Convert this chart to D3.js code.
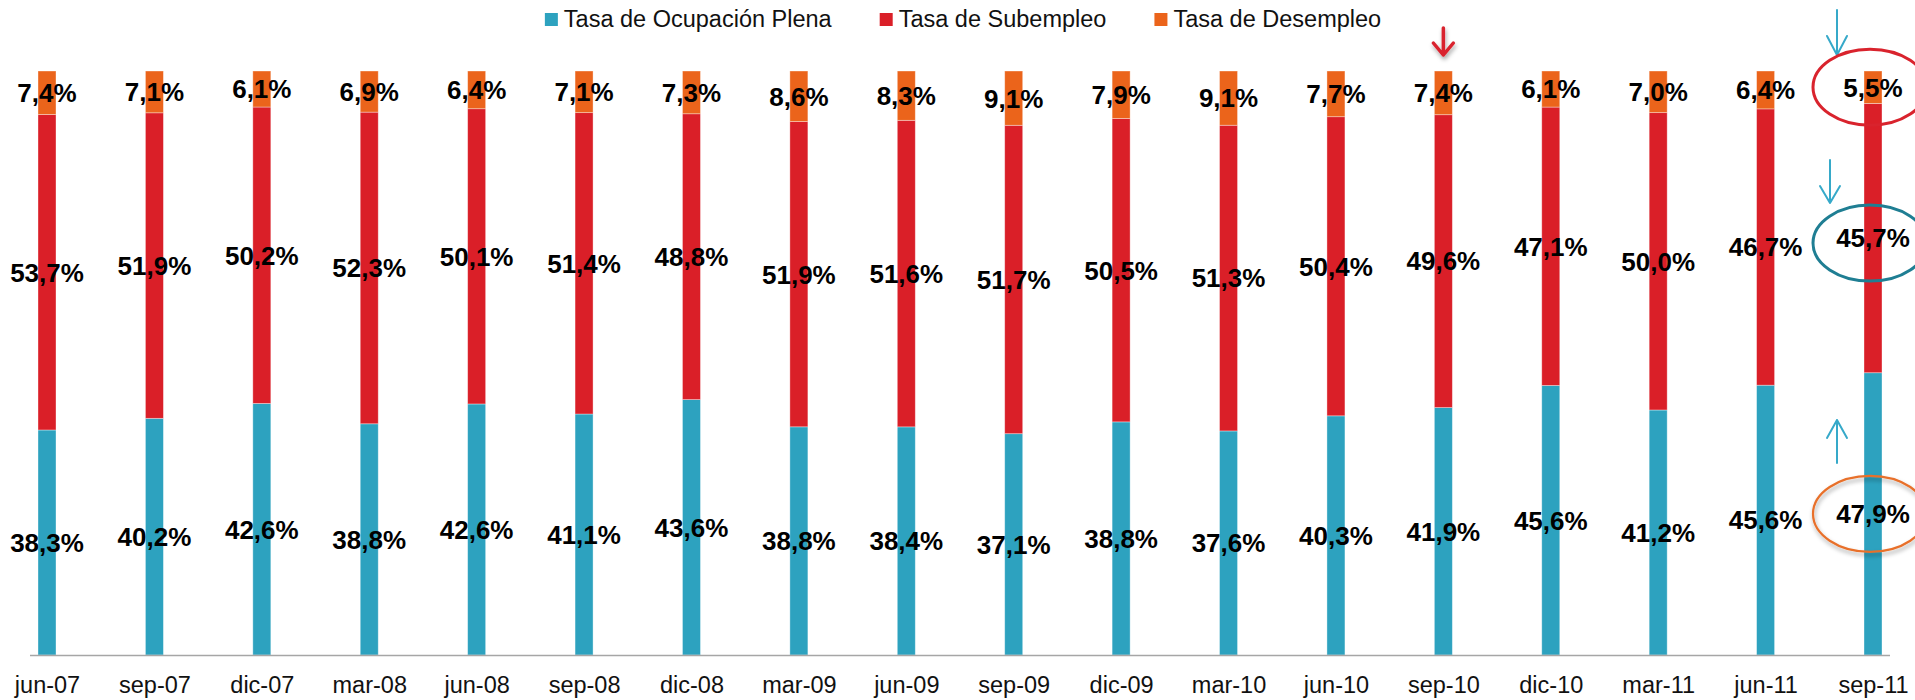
<!DOCTYPE html>
<html>
<head>
<meta charset="utf-8">
<script src="https://cdn.jsdelivr.net/npm/d3@7"></script>
<style>
  body { margin: 0; background: #fff; }
  svg { display: block; }
</style>
</head>
<body>
<svg id="chart" width="1915" height="700"></svg>
<script>

var categories = ["jun-07","sep-07","dic-07","mar-08","jun-08","sep-08","dic-08","mar-09","jun-09",
                  "sep-09","dic-09","mar-10","jun-10","sep-10","dic-10","mar-11","jun-11","sep-11"];

var plena      = [38.3, 40.2, 42.6, 38.8, 42.6, 41.1, 43.6, 38.8, 38.4, 37.1, 38.8, 37.6, 40.3, 41.9, 45.6, 41.2, 45.6, 47.9];
var subempleo  = [53.7, 51.9, 50.2, 52.3, 50.1, 51.4, 48.8, 51.9, 51.6, 51.7, 50.5, 51.3, 50.4, 49.6, 47.1, 50.0, 46.7, 45.7];
var desempleo  = [7.4, 7.1, 6.1, 6.9, 6.4, 7.1, 7.3, 8.6, 8.3, 9.1, 7.9, 9.1, 7.7, 7.4, 6.1, 7.0, 6.4, 5.5];

var seriesNames  = ["Tasa de Ocupación Plena", "Tasa de Subempleo", "Tasa de Desempleo"];
var seriesKeys   = ["plena", "subempleo", "desempleo"];
var seriesColors = ["#2DA2BF", "#DA1F28", "#EB641B"];

var svg = d3.select("#chart");

// table for d3.stack
var table = categories.map(function(c, i) {
	return { cat: c, plena: plena[i], subempleo: subempleo[i], desempleo: desempleo[i] };
});

var stacked = d3.stack()
	.keys(seriesKeys)
	.offset(d3.stackOffsetExpand)(table);

var x = d3.scalePoint().domain(categories).range([47, 1873]);
var y = d3.scaleLinear().domain([0, 1]).range([655, 71]);
var barW = 18;

var fmt = function(v) { return v.toFixed(1).replace(".", ",") + "%"; };

// shadow filter
var defs = svg.append("defs");
var f = defs.append("filter").attr("id", "shadow")
	.attr("x", "-50%").attr("y", "-50%").attr("width", "200%").attr("height", "200%");
f.append("feDropShadow")
	.attr("dx", 1).attr("dy", 3).attr("stdDeviation", 2)
	.attr("flood-color", "#000").attr("flood-opacity", 0.35);

// bars
var layers = svg.selectAll(".layer")
		.data(stacked)
	.enter().append("g")
		.attr("class", "layer")
		.attr("fill", function(d, i) { return seriesColors[i]; });

layers.selectAll("rect")
		.data(function(d) { return d; })
	.enter().append("rect")
		.attr("x", function(d) { return x(d.data.cat) - barW / 2; })
		.attr("y", function(d) { return y(d[1]); })
		.attr("width", barW)
		.attr("height", function(d) { return y(d[0]) - y(d[1]); })
		.attr("stroke", "#fff")
		.attr("stroke-opacity", 0.45)
		.attr("stroke-width", 0.8);

// baseline
svg.append("line")
	.attr("x1", 30).attr("x2", 1890)
	.attr("y1", y(0) + 0.5).attr("y2", y(0) + 0.5)
	.attr("stroke", "#A6A6A6")
	.attr("stroke-width", 1.5);

// category labels
var xAxis = d3.axisBottom(x).tickSize(0).tickPadding(0);
var gx = svg.append("g")
	.attr("transform", "translate(0," + y(0) + ")")
	.call(xAxis);
gx.select(".domain").remove();
gx.selectAll("text")
	.attr("y", 38)
	.attr("dy", 0)
	.style("font-family", "'Liberation Sans', Arial, sans-serif")
	.style("font-size", "23.5px")
	.style("fill", "#111");

// value labels
layers.each(function(s, si) {
	d3.select(this.parentNode).append("g").selectAll("text")
			.data(s)
		.enter().append("text")
			.attr("x", function(d) { return x(d.data.cat); })
			.attr("y", function(d) { return (y(d[0]) + y(d[1])) / 2; })
			.attr("dy", "0.36em")
			.attr("text-anchor", "middle")
			.style("font-family", "'Liberation Sans', Arial, sans-serif")
			.style("font-weight", "bold")
			.style("font-size", "26px")
			.style("fill", "#000")
			.text(function(d) { return fmt(d.data[seriesKeys[si]]); });
});

// legend
var legend = svg.append("g").attr("class", "legend");
var items = legend.selectAll("g")
		.data(seriesNames)
	.enter().append("g");
items.append("rect")
	.attr("y", 13).attr("width", 13).attr("height", 13)
	.attr("fill", function(d, i) { return seriesColors[i]; });
items.append("text")
	.attr("x", 19).attr("y", 27)
	.style("font-family", "'Liberation Sans', Arial, sans-serif")
	.style("font-size", "23.5px")
	.style("fill", "#111")
	.text(function(d) { return d; });

var lx = 0;
items.each(function() {
	var w = 19 + d3.select(this).select("text").node().getComputedTextLength();
	d3.select(this).attr("transform", "translate(" + lx + ",0)");
	lx += w + 48;
});
var legendW = lx - 48;
legend.attr("transform", "translate(" + (963 - legendW / 2) + ",0)");

// annotations on the last quarters
var last = categories[categories.length - 1];
var sep10 = "sep-10";
var lastCol = stacked.map(function(s) { return s[s.length - 1]; });

var ann = svg.append("g").attr("fill", "none").attr("stroke-linecap", "round").attr("stroke-linejoin", "round");

// red arrow above sep-10
ann.append("path")
	.attr("d", "M" + x(sep10) + ",28 L" + x(sep10) + ",55 M" + (x(sep10) - 10) + ",43 L" + x(sep10) + ",55 L" + (x(sep10) + 10) + ",43")
	.attr("stroke", "#D9232D")
	.attr("stroke-width", 3.5)
	.attr("filter", "url(#shadow)");

// thin blue arrows near sep-11
var ax = x(last) - 36;
ann.append("path")
	.attr("d", "M" + ax + ",10 L" + ax + ",55 M" + (ax - 10) + ",36 L" + ax + ",55 L" + (ax + 10) + ",36")
	.attr("stroke", "#36A9C9").attr("stroke-width", 2);
ann.append("path")
	.attr("d", "M" + (ax - 7) + ",160 L" + (ax - 7) + ",203 M" + (ax - 17) + ",186 L" + (ax - 7) + ",203 L" + (ax + 3) + ",186")
	.attr("stroke", "#36A9C9").attr("stroke-width", 2);
ann.append("path")
	.attr("d", "M" + ax + ",463 L" + ax + ",420 M" + (ax - 10) + ",438 L" + ax + ",420 L" + (ax + 10) + ",438")
	.attr("stroke", "#36A9C9").attr("stroke-width", 2);

// ellipses around the sep-11 labels
var ellColors = ["#E8702A", "#1F7E93", "#D9232D"];
ann.selectAll("ellipse")
		.data(lastCol)
	.enter().append("ellipse")
		.attr("cx", x(last) - 3)
		.attr("cy", function(d, i) { return (y(d[0]) + y(d[1])) / 2 + (i == 1 ? 5 : 0); })
		.attr("rx", 57)
		.attr("ry", 38)
		.attr("stroke", function(d, i) { return ellColors[i]; })
		.attr("stroke-width", function(d, i) { return i == 0 ? 2.2 : 3; })
		.attr("filter", function(d, i) { return i == 0 ? "url(#shadow)" : null; });

</script>
</body>
</html>
